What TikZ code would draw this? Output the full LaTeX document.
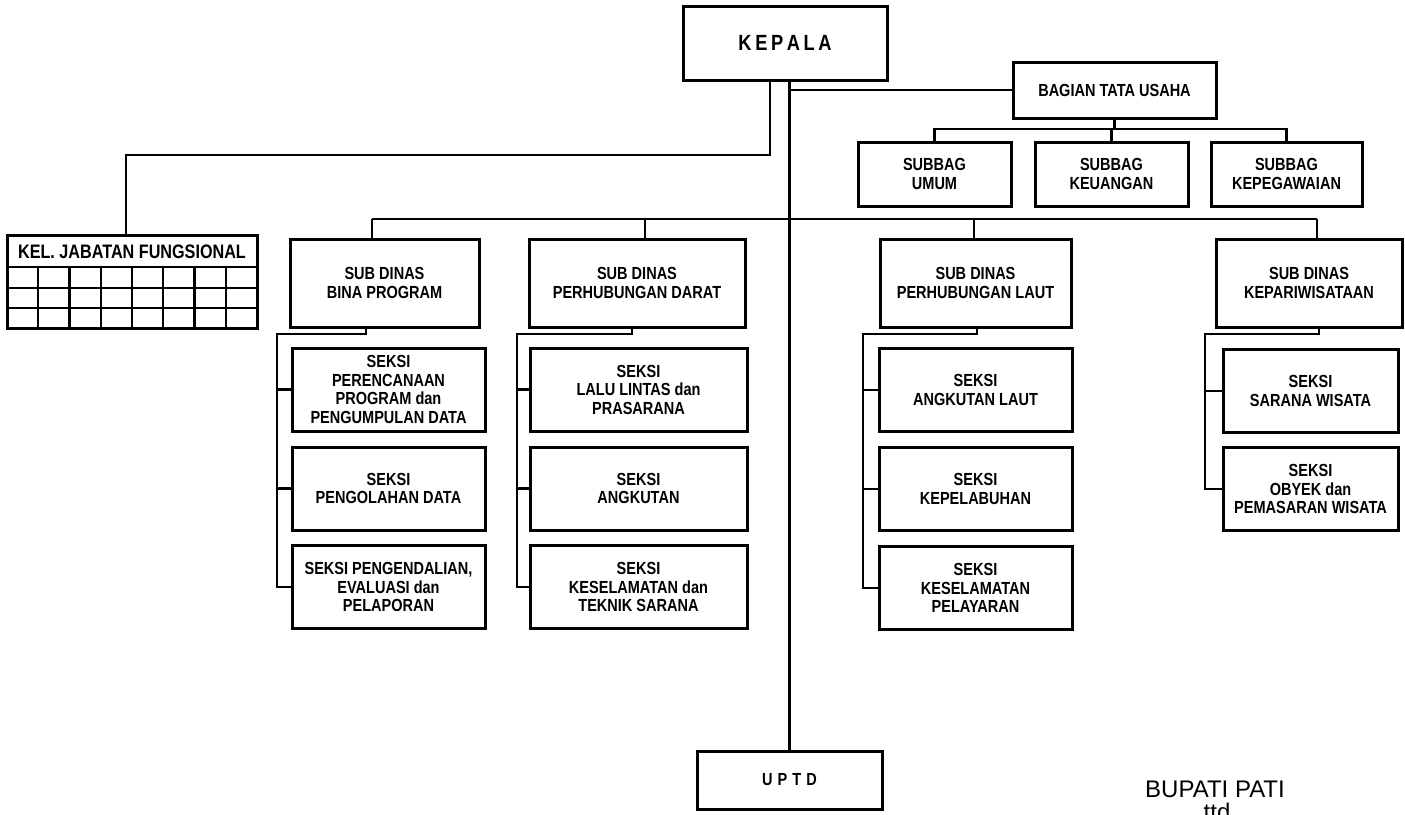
\documentclass[tikz,border=0pt]{standalone}
\usepackage{fontspec}
\setmainfont{Liberation Sans}
\newfontfamily\condfont[FakeStretch=0.83]{Liberation Sans}
\begin{document}
\begin{tikzpicture}[x=1pt,y=-1pt,
  box/.style={draw, line width=3pt, rectangle, inner sep=0pt, align=center,
    font=\condfont\bfseries\fontsize{17.5}{18.5}\selectfont},
  subbox/.style={box, minimum width=#1, minimum height=64},
  dinas/.style={box, minimum width=#1, minimum height=88},
  seksi/.style={box, minimum width=#1, minimum height=83},
  conn/.style={line width=2.2pt},
  grid/.style={line width=2.2pt},
  plain/.style={inner sep=0pt, font=\fontsize{24}{28}\selectfont}]
\useasboundingbox (0,0) rectangle (1405,814);
\fill[white] (0,0) rectangle (1405,814);

% top level
\node[box, minimum width=204, minimum height=74,
  font=\condfont\bfseries\fontsize{22}{24}\selectfont] (kepala) at (785,43)
  {K\kern3.6pt E\kern3.6pt P\kern3.6pt A\kern3.6pt L\kern3.6pt A};
\node[box, minimum width=203, minimum height=56] (tu) at (1114.5,90) {BAGIAN TATA USAHA};
\node[subbox=153] (umum) at (934.5,174) {SUBBAG\\UMUM};
\node[subbox=153] (keu) at (1111.5,174) {SUBBAG\\KEUANGAN};
\node[subbox=151] (peg) at (1286.5,174) {SUBBAG\\KEPEGAWAIAN};

% kelompok jabatan fungsional
\node[box, minimum width=250, minimum height=93] (jab) at (132,281.5) {};
\node[inner sep=0pt, font=\condfont\bfseries\fontsize{19.5}{21}\selectfont] (jabtxt) at (132,251.5) {KEL. JABATAN FUNGSIONAL};
\draw[grid] (jab.west |- 0,267) -- (jab.east |- 0,267);
\draw[grid] (jab.west |- 0,288) -- (jab.east |- 0,288);
\draw[grid] (jab.west |- 0,308) -- (jab.east |- 0,308);
\foreach \i in {1,...,7} {
  \draw[grid] ({7+31.25*\i},267) -- ({7+31.25*\i},328);
}

% sub dinas
\node[dinas=189] (bina) at (384.5,283) {SUB DINAS\\BINA PROGRAM};
\node[dinas=216] (darat) at (637,283) {SUB DINAS\\PERHUBUNGAN DARAT};
\node[dinas=191] (laut) at (975.5,283) {SUB DINAS\\PERHUBUNGAN LAUT};
\node[dinas=186] (wis) at (1309,283) {SUB DINAS\\KEPARIWISATAAN};

% seksi
\node[seksi=193] (b1) at (388.5,389.5) {SEKSI\\PERENCANAAN\\PROGRAM dan\\PENGUMPULAN DATA};
\node[seksi=193] (b2) at (388.5,488.5) {SEKSI\\PENGOLAHAN DATA};
\node[seksi=193] (b3) at (388.5,587) {SEKSI PENGENDALIAN,\\EVALUASI dan\\PELAPORAN};
\node[seksi=217] (d1) at (638.5,389.5) {SEKSI\\LALU LINTAS dan\\PRASARANA};
\node[seksi=217] (d2) at (638.5,488.5) {SEKSI\\ANGKUTAN};
\node[seksi=217] (d3) at (638.5,587) {SEKSI\\KESELAMATAN dan\\TEKNIK SARANA};
\node[seksi=193] (l1) at (975.5,390) {SEKSI\\ANGKUTAN LAUT};
\node[seksi=193] (l2) at (975.5,489) {SEKSI\\KEPELABUHAN};
\node[seksi=193] (l3) at (975.5,588) {SEKSI\\KESELAMATAN\\PELAYARAN};
\node[seksi=175] (w1) at (1310.5,391) {SEKSI\\SARANA WISATA};
\node[seksi=175] (w2) at (1310.5,489) {SEKSI\\OBYEK dan\\PEMASARAN WISATA};

% UPTD
\node[box, minimum width=185, minimum height=58] (uptd) at (789.5,780)
  {U\kern5pt P\kern5pt T\kern5pt D};

% signature
\node[plain, anchor=base] (bupati) at (1215,797) {BUPATI PATI};
\node[plain, anchor=base] (ttd) at (1217,820) {ttd};

% connectors from kepala
\coordinate (kl) at (770,155);
\coordinate (jc) at (126,155);
\draw[conn] (kepala.south -| kl) -- (kl) -- (jc) -- (jc |- jab.north);
\draw[conn] (kepala.south -| uptd.north) -- (uptd.north);
\draw[conn] (uptd.north |- tu.west) -- (tu.west);

% subbag
\coordinate (sbus) at (1114.5,129);
\draw[conn] (tu.south) -- (sbus);
\draw[conn] (umum.north) |- (sbus) -| (peg.north);
\draw[conn] (keu.north) -- (keu.north |- sbus);

% main bus
\coordinate (bb) at (372,219);
\coordinate (db) at (645,219);
\coordinate (lb) at (974,219);
\coordinate (wb) at (1317,219);
\draw[conn] (bb) -- (wb);
\draw[conn] (bb) -- (bb |- bina.north);
\draw[conn] (db) -- (db |- darat.north);
\draw[conn] (lb) -- (lb |- laut.north);
\draw[conn] (wb) -- (wb |- wis.north);

% sub dinas to seksi
\coordinate (bd) at (366,334); \coordinate (bt) at (277,334);
\draw[conn] (bd |- bina.south) -- (bd) -- (bt) -- (bt |- b3.west) -- (b3.west);
\draw[conn] (bt |- b1.west) -- (b1.west);
\draw[conn] (bt |- b2.west) -- (b2.west);

\coordinate (dd) at (632,334); \coordinate (dt) at (517,334);
\draw[conn] (dd |- darat.south) -- (dd) -- (dt) -- (dt |- d3.west) -- (d3.west);
\draw[conn] (dt |- d1.west) -- (d1.west);
\draw[conn] (dt |- d2.west) -- (d2.west);

\coordinate (ld) at (977,334); \coordinate (lt) at (863,334);
\draw[conn] (ld |- laut.south) -- (ld) -- (lt) -- (lt |- l3.west) -- (l3.west);
\draw[conn] (lt |- l1.west) -- (l1.west);
\draw[conn] (lt |- l2.west) -- (l2.west);

\coordinate (wd) at (1319,334); \coordinate (wt) at (1205,334);
\draw[conn] (wd |- wis.south) -- (wd) -- (wt) -- (wt |- w2.west) -- (w2.west);
\draw[conn] (wt |- w1.west) -- (w1.west);
\end{tikzpicture}
\end{document}
